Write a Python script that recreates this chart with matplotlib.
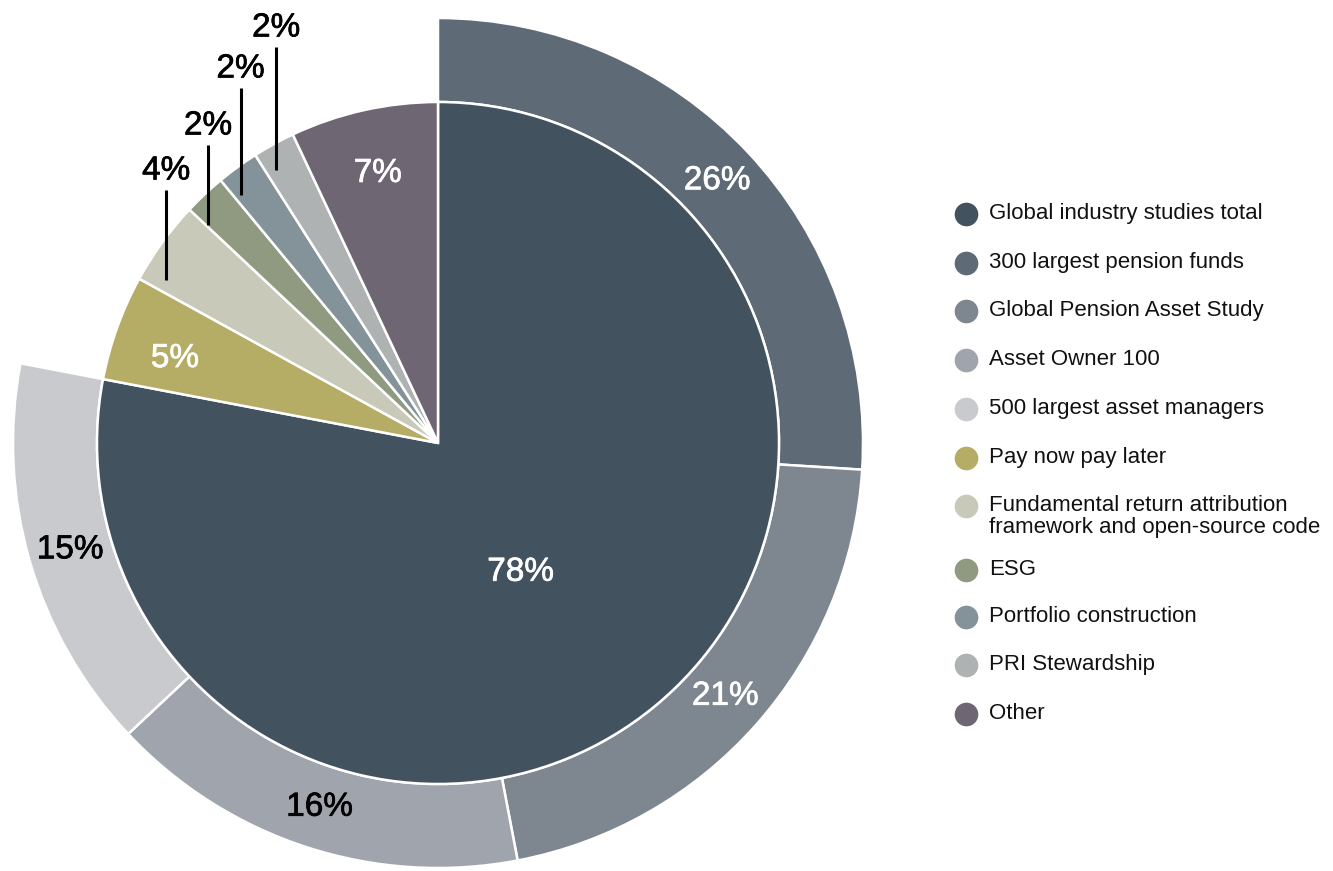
import numpy as np
import matplotlib.pyplot as plt
import matplotlib.patheffects as pe

plt.rcParams['font.family'] = ['Liberation Sans', 'DejaVu Sans']

# Share of downloads by research topic
inner_labels = ['Global industry studies total', 'Pay now pay later',
                'Fundamental return attribution\nframework and open-source code',
                'ESG', 'Portfolio construction', 'PRI Stewardship', 'Other']
inner_values = [78, 5, 4, 2, 2, 2, 7]
inner_colors = ['#42535f', '#b5ad65', '#c9c9b9', '#8f9a81', '#84939a', '#aeb2b3', '#6f6673']

# Breakdown of the global industry studies
outer_labels = ['300 largest pension funds', 'Global Pension Asset Study',
                'Asset Owner 100', '500 largest asset managers']
outer_values = [26, 21, 16, 15]
outer_colors = ['#5e6a76', '#7e868f', '#a0a4ac', '#c9cace']

W, H = 1333, 871
cx, cy = 438, H - 443
r_in, r_out = 341, 425

fig = plt.figure(figsize=(W / 100, H / 100), dpi=100)
ax = fig.add_axes([0, 0, 1, 1])

edge = dict(edgecolor='white', linewidth=1.8)

# outer ring only covers the first slice, the rest is left empty
rest = 100 - sum(outer_values)
ring, _ = ax.pie(outer_values + [rest], colors=outer_colors + ['white'],
                 startangle=90, counterclock=False, center=(cx, cy),
                 radius=r_out, wedgeprops=dict(width=r_out - r_in, **edge))
ring[-1].set_visible(False)

ax.pie(inner_values, colors=inner_colors, startangle=90, counterclock=False,
       center=(cx, cy), radius=r_in, wedgeprops=edge)

ax.set_xlim(0, W)
ax.set_ylim(0, H)
ax.set_aspect('auto')
ax.axis('off')


def mid_angles(values):
    edges = 90 - 360 * np.cumsum([0] + list(values)) / 100.0
    return np.radians((edges[:-1] + edges[1:]) / 2)


def pct_label(x, y, val, col):
    # slightly thickened strokes for a medium-weight look
    t = ax.text(x, y, f'{val}%', color=col, fontsize=24, ha='center', va='center')
    t.set_path_effects([pe.withStroke(linewidth=0.5, foreground=col)])


# outer ring labels sit in the middle of the band
r_mid = (r_in + r_out) / 2
for val, ang, col in zip(outer_values, mid_angles(outer_values),
                         ['white', 'white', 'black', 'black']):
    pct_label(cx + r_mid * np.cos(ang), cy + r_mid * np.sin(ang), val, col)

# inner labels: big ones inside, narrow ones above with a leader line
angles = mid_angles(inner_values)
ang0 = angles[0] - np.radians(7)
pct_label(cx + 0.45 * r_in * np.cos(ang0), cy + 0.45 * r_in * np.sin(ang0),
          inner_values[0], 'white')
for i, shift in ((1, 2.0), (6, 0.0)):
    a = angles[i] + np.radians(shift)
    pct_label(cx + 0.81 * r_in * np.cos(a), cy + 0.81 * r_in * np.sin(a),
              inner_values[i], 'white')

line_tops = [190, 145, 88, 47]
for i, top in zip(range(2, 6), line_tops):
    x = cx + 0.985 * r_in * np.cos(angles[i])
    dx = x - cx
    y_bot = cy + np.sqrt((0.93 * r_in) ** 2 - dx ** 2)
    ax.plot([x, x], [y_bot, H - top], color='black', lw=2.2, solid_capstyle='butt')
    pct_label(x, H - top + 19, inner_values[i], 'black')

# legend drawn as a column of dots and labels
legend_names = [inner_labels[0]] + outer_labels + inner_labels[1:]
legend_colors = [inner_colors[0]] + outer_colors + inner_colors[1:]
row_y = [214, 263, 311, 360, 409, 458, 506, 570, 617, 665, 714]
for name, col, yy in zip(legend_names, legend_colors, row_y):
    ax.scatter([966], [H - yy], s=290, color=col, linewidths=0)
    ax.text(989, H - yy + 11, name, fontsize=16, color='#111111',
            ha='left', va='top', linespacing=1.05)

fig.savefig('out.png', dpi=100)
